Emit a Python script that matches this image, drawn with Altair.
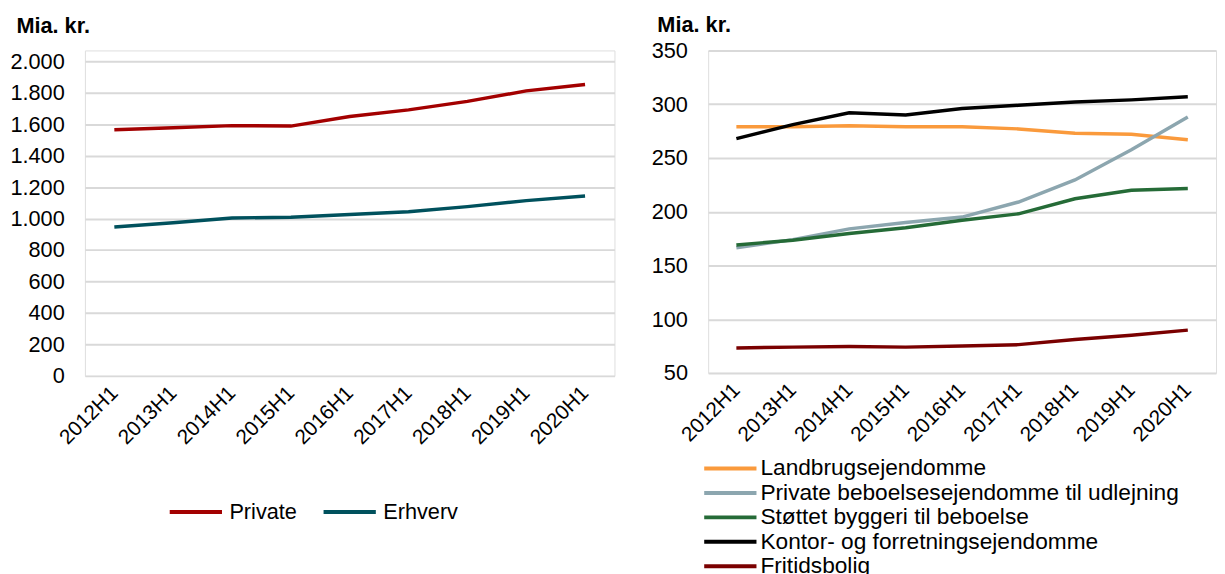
import altair as alt
import pandas as pd

periods = ["2012H1", "2013H1", "2014H1", "2015H1", "2016H1", "2017H1", "2018H1", "2019H1", "2020H1"]

# Left panel (Mia. kr.)
private = [1565, 1578, 1591, 1588, 1649, 1691, 1745, 1812, 1852]
erhverv = [947, 974, 1004, 1009, 1026, 1043, 1076, 1114, 1143]
left_names = ["Private", "Erhverv"]
left_colors = ["#A30000", "#00515D"]

# Right panel (Mia. kr.)
landbrug = [279, 279, 280, 279, 279, 277, 273, 272, 267]
udlejning = [166.5, 174, 184, 190, 195, 209, 229.5, 257.6, 288]
stottet = [169, 173.5, 179.7, 185, 192, 198, 212, 220, 221.6]
kontor = [268, 281, 292, 290, 296, 299, 302, 304, 307]
fritid = [73.2, 74, 74.5, 74, 75, 76.3, 81, 85, 89.8]
right_names = [
    "Landbrugsejendomme",
    "Private beboelsesejendomme til udlejning",
    "Støttet byggeri til beboelse",
    "Kontor- og forretningsejendomme",
    "Fritidsbolig",
]
right_colors = ["#FA9A3C", "#8CA6AF", "#256B37", "#000000", "#7A0000"]

left_ticks = [0, 200, 400, 600, 800, 1000, 1200, 1400, 1600, 1800, 2000]
right_ticks = [50, 100, 150, 200, 250, 300, 350]

FONT = "Liberation Sans"

def long(names, series):
    rows = []
    for n, s in zip(names, series):
        for p, v in zip(periods, s):
            rows.append({"periode": p, "serie": n, "value": v})
    return pd.DataFrame(rows)

left_df = long(left_names, [private, erhverv])
right_df = long(right_names, [landbrug, udlejning, stottet, kontor, fritid])

xaxis = alt.Axis(
    title=None, labelAngle=-45, labelAlign="right", labelBaseline="middle",
    labelFontSize=21, labelFont=FONT, labelColor="#000000",
    domain=False, ticks=False, grid=False, labelPadding=14,
)

def yaxis(ticks, tx, ty):
    return alt.Axis(
        title="Mia. kr.", titleAngle=0, titleAlign="left", titleBaseline="top",
        titleX=tx, titleY=ty, titleFont=FONT, titleFontSize=22, titleFontWeight="bold",
        titleColor="#000000",
        values=ticks, labelExpr="replace(format(datum.value, ','), ',', '.')",
        labelFont=FONT, labelFontSize=22, labelColor="#000000", labelPadding=21,
        domain=False, ticks=False, grid=True, gridColor="#D9D9D9", gridWidth=2,
    )

SYM = "M-2.65,0H2.65"

left = alt.Chart(left_df).mark_line(strokeWidth=3.5).encode(
    x=alt.X("periode:N", sort=periods, axis=xaxis),
    y=alt.Y("value:Q", scale=alt.Scale(domain=[0, 2069], nice=False, zero=True),
            axis=yaxis(left_ticks, -70, -35.6)),
    color=alt.Color(
        "serie:N",
        scale=alt.Scale(domain=left_names, range=left_colors),
        legend=alt.Legend(
            title=None, orient="none", legendX=100.5, legendY=456, direction="horizontal",
            symbolType=SYM, symbolSize=400, symbolStrokeWidth=4, labelFont=FONT,
            labelFontSize=22, labelColor="#000000", labelOffset=22, columnPadding=18,
        ),
    ),
).properties(width=537, height=330)

right = alt.Chart(right_df).mark_line(strokeWidth=3.5).encode(
    x=alt.X("periode:N", sort=periods, axis=xaxis),
    y=alt.Y("value:Q", scale=alt.Scale(domain=[50, 350], nice=False, zero=False),
            axis=yaxis(right_ticks, -52, -36.6)),
    color=alt.Color(
        "serie:N",
        scale=alt.Scale(domain=right_names, range=right_colors),
        legend=alt.Legend(
            title=None, orient="none", legendX=10.5, legendY=412, direction="vertical",
            symbolType=SYM, symbolSize=400, symbolStrokeWidth=4, labelFont=FONT,
            labelFontSize=23, labelColor="#000000", labelOffset=18.5, rowPadding=0.75,
            labelLimit=600,
        ),
    ),
).properties(width=515, height=327)

chart = alt.hconcat(left, right, spacing=35).resolve_scale(color="independent").resolve_legend(
    color="independent"
).properties(
    padding={"left": 1, "top": 0, "right": 0, "bottom": 0}
).configure_view(stroke=None).configure(background="#FFFFFF")

chart.save("out.html", embed_options={"renderer": "svg", "actions": False})
